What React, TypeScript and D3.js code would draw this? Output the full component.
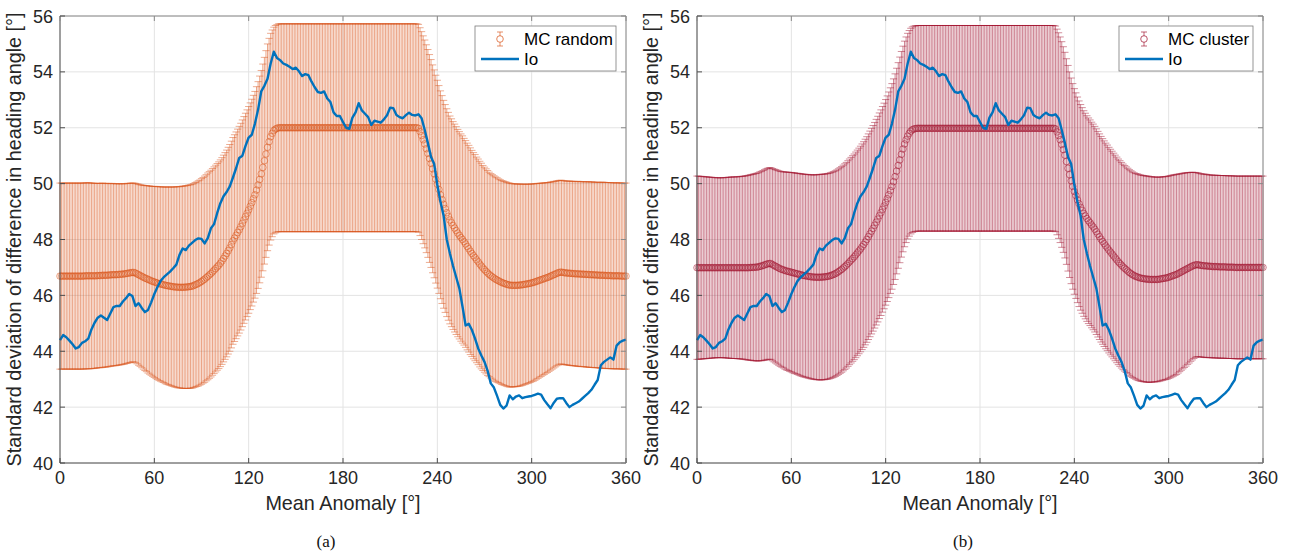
import React from 'react';
import * as d3 from 'd3';

// ---------- data ----------
const ANGLES: number[] = d3.range(0, 361, 1);    // error-bar positions, mean anomaly [deg]
const IO_ANGLES: number[] = d3.range(0, 361, 2); // Io samples [deg]
const X_TICKS = [0, 60, 120, 180, 240, 300, 360];
const Y_TICKS = [40, 42, 44, 46, 48, 50, 52, 54, 56];

// MC random: mean (deg) per 1 deg of mean anomaly
const MEAN_RANDOM = [
  46.69,46.69,46.69,46.69,46.69,46.69,46.69,46.69,46.69,46.69,
  46.69,46.69,46.69,46.69,46.69,46.69,46.70,46.70,46.70,46.70,
  46.70,46.70,46.70,46.70,46.71,46.71,46.71,46.72,46.72,46.72,
  46.72,46.73,46.73,46.74,46.74,46.74,46.74,46.75,46.75,46.76,
  46.76,46.77,46.78,46.79,46.80,46.81,46.82,46.82,46.80,46.77,
  46.74,46.71,46.68,46.65,46.62,46.60,46.57,46.55,46.52,46.50,
  46.48,46.46,46.44,46.42,46.41,46.39,46.38,46.36,46.35,46.34,
  46.33,46.32,46.31,46.30,46.30,46.29,46.29,46.29,46.29,46.29,
  46.30,46.30,46.31,46.32,46.33,46.35,46.38,46.40,46.43,46.46,
  46.50,46.54,46.58,46.63,46.68,46.73,46.78,46.84,46.90,46.96,
  47.02,47.08,47.15,47.23,47.32,47.41,47.50,47.60,47.70,47.82,
  47.95,48.05,48.15,48.25,48.35,48.46,48.58,48.70,48.82,48.94,
  49.06,49.19,49.32,49.46,49.60,49.77,49.95,50.15,50.35,50.58,
  50.82,51.06,51.30,51.50,51.68,51.80,51.90,51.95,51.98,52.00,
  52.00,52.00,52.00,52.00,52.00,52.00,52.00,52.00,52.00,52.00,
  52.00,52.00,52.00,52.00,52.00,52.00,52.00,52.00,52.00,52.00,
  52.00,52.00,52.00,52.00,52.00,52.00,52.00,52.00,52.00,52.00,
  52.00,52.00,52.00,52.00,52.00,52.00,52.00,52.00,52.00,52.00,
  52.00,52.00,52.00,52.00,52.00,52.00,52.00,52.00,52.00,52.00,
  52.00,52.00,52.00,52.00,52.00,52.00,52.00,52.00,52.00,52.00,
  52.00,52.00,52.00,52.00,52.00,52.00,52.00,52.00,52.00,52.00,
  52.00,52.00,52.00,52.00,52.00,52.00,52.00,52.00,52.00,52.00,
  52.00,52.00,52.00,52.00,52.00,52.00,52.00,52.00,51.98,51.86,
  51.72,51.57,51.42,51.25,51.08,50.90,50.72,50.53,50.35,50.16,
  49.98,49.79,49.60,49.43,49.26,49.11,48.96,48.83,48.70,48.60,
  48.50,48.41,48.32,48.23,48.15,48.07,48.00,47.92,47.84,47.75,
  47.67,47.58,47.50,47.42,47.35,47.27,47.20,47.12,47.05,46.98,
  46.92,46.86,46.80,46.75,46.70,46.66,46.62,46.58,46.55,46.52,
  46.49,46.46,46.44,46.42,46.40,46.38,46.37,46.36,46.36,46.36,
  46.36,46.36,46.37,46.37,46.38,46.39,46.40,46.41,46.42,46.43,
  46.45,46.46,46.48,46.50,46.52,46.54,46.56,46.58,46.60,46.62,
  46.64,46.66,46.69,46.71,46.74,46.76,46.79,46.81,46.83,46.83,
  46.82,46.81,46.80,46.80,46.79,46.79,46.78,46.78,46.77,46.77,
  46.77,46.76,46.76,46.76,46.75,46.75,46.75,46.74,46.74,46.74,
  46.73,46.73,46.73,46.72,46.72,46.72,46.72,46.71,46.71,46.71,
  46.71,46.70,46.70,46.70,46.70,46.70,46.70,46.69,46.69,46.69,
  46.69,
];
// MC random: error-bar half-width (deg)
const ERR_RANDOM = [
  3.33,3.33,3.33,3.33,3.33,3.33,3.33,3.33,3.33,3.33,
  3.33,3.33,3.33,3.33,3.33,3.33,3.33,3.33,3.33,3.33,
  3.32,3.32,3.31,3.31,3.30,3.30,3.30,3.30,3.29,3.29,
  3.28,3.28,3.27,3.27,3.26,3.26,3.25,3.25,3.24,3.24,
  3.23,3.23,3.22,3.22,3.21,3.21,3.20,3.20,3.21,3.22,
  3.24,3.25,3.27,3.29,3.31,3.33,3.35,3.37,3.38,3.40,
  3.42,3.44,3.45,3.47,3.48,3.49,3.50,3.52,3.53,3.54,
  3.55,3.56,3.57,3.58,3.59,3.60,3.60,3.61,3.62,3.62,
  3.63,3.63,3.64,3.64,3.65,3.65,3.66,3.66,3.67,3.67,
  3.68,3.68,3.69,3.69,3.70,3.70,3.70,3.70,3.70,3.70,
  3.70,3.70,3.70,3.70,3.70,3.70,3.70,3.70,3.70,3.70,
  3.70,3.70,3.70,3.70,3.70,3.70,3.70,3.70,3.70,3.70,
  3.70,3.70,3.70,3.70,3.70,3.70,3.70,3.70,3.70,3.70,
  3.70,3.70,3.70,3.70,3.70,3.70,3.70,3.71,3.71,3.72,
  3.72,3.72,3.72,3.72,3.72,3.72,3.72,3.72,3.72,3.72,
  3.72,3.72,3.72,3.72,3.72,3.72,3.72,3.72,3.72,3.72,
  3.72,3.72,3.72,3.72,3.72,3.72,3.72,3.72,3.72,3.72,
  3.72,3.72,3.72,3.72,3.72,3.72,3.72,3.72,3.72,3.72,
  3.72,3.72,3.72,3.72,3.72,3.72,3.72,3.72,3.72,3.72,
  3.72,3.72,3.72,3.72,3.72,3.72,3.72,3.72,3.72,3.72,
  3.72,3.72,3.72,3.72,3.72,3.72,3.72,3.72,3.72,3.72,
  3.72,3.72,3.72,3.72,3.72,3.72,3.72,3.72,3.72,3.72,
  3.72,3.72,3.72,3.72,3.72,3.72,3.72,3.72,3.72,3.72,
  3.72,3.72,3.72,3.72,3.72,3.72,3.72,3.72,3.72,3.72,
  3.72,3.72,3.72,3.72,3.72,3.72,3.72,3.72,3.72,3.72,
  3.72,3.72,3.72,3.71,3.71,3.71,3.71,3.70,3.70,3.70,
  3.70,3.70,3.69,3.69,3.69,3.68,3.68,3.68,3.68,3.67,
  3.67,3.67,3.67,3.66,3.66,3.66,3.66,3.66,3.66,3.65,
  3.65,3.65,3.65,3.65,3.65,3.65,3.65,3.64,3.64,3.63,
  3.63,3.62,3.62,3.61,3.60,3.59,3.58,3.57,3.56,3.55,
  3.54,3.53,3.52,3.50,3.49,3.47,3.46,3.44,3.43,3.41,
  3.40,3.38,3.37,3.35,3.34,3.32,3.31,3.30,3.29,3.29,
  3.29,3.29,3.29,3.29,3.30,3.30,3.30,3.30,3.30,3.31,
  3.31,3.31,3.31,3.31,3.31,3.32,3.32,3.32,3.32,3.32,
  3.32,3.32,3.32,3.32,3.33,3.33,3.33,3.33,3.33,3.33,
  3.33,3.33,3.33,3.33,3.33,3.33,3.33,3.33,3.33,3.33,
  3.33,
];

// MC cluster: mean (deg) per 1 deg of mean anomaly
const MEAN_CLUSTER = [
  46.99,46.99,46.99,46.99,46.99,46.99,46.99,46.99,46.99,46.99,
  46.99,46.99,46.99,46.99,46.99,46.99,46.99,46.99,46.99,46.99,
  46.99,46.99,46.99,46.99,46.99,46.99,46.99,46.99,46.99,46.99,
  46.99,46.99,46.99,46.99,47.00,47.00,47.00,47.01,47.01,47.02,
  47.04,47.05,47.07,47.09,47.11,47.13,47.14,47.14,47.10,47.07,
  47.04,47.01,46.98,46.95,46.93,46.91,46.89,46.87,46.86,46.84,
  46.83,46.81,46.80,46.78,46.77,46.75,46.74,46.72,46.71,46.70,
  46.69,46.68,46.67,46.66,46.66,46.65,46.65,46.65,46.65,46.65,
  46.66,46.66,46.67,46.68,46.69,46.71,46.73,46.75,46.78,46.81,
  46.85,46.89,46.93,46.98,47.03,47.08,47.14,47.20,47.26,47.32,
  47.38,47.45,47.52,47.59,47.66,47.74,47.82,47.91,48.00,48.10,
  48.20,48.30,48.40,48.51,48.62,48.73,48.85,48.96,49.08,49.20,
  49.33,49.46,49.60,49.75,49.90,50.07,50.25,50.45,50.65,50.85,
  51.05,51.24,51.42,51.57,51.70,51.80,51.88,51.93,51.96,51.97,
  51.98,51.98,51.98,51.98,51.98,51.98,51.98,51.98,51.98,51.98,
  51.98,51.98,51.98,51.98,51.98,51.98,51.98,51.98,51.98,51.98,
  51.98,51.98,51.98,51.98,51.98,51.98,51.98,51.98,51.98,51.98,
  51.98,51.98,51.98,51.98,51.98,51.98,51.98,51.98,51.98,51.98,
  51.98,51.98,51.98,51.98,51.98,51.98,51.98,51.98,51.98,51.98,
  51.98,51.98,51.98,51.98,51.98,51.98,51.98,51.98,51.98,51.98,
  51.98,51.98,51.98,51.98,51.98,51.98,51.98,51.98,51.98,51.98,
  51.98,51.98,51.98,51.98,51.98,51.98,51.98,51.98,51.98,51.98,
  51.98,51.98,51.98,51.98,51.98,51.98,51.98,51.98,51.96,51.85,
  51.72,51.57,51.40,51.22,51.02,50.79,50.55,50.32,50.10,49.90,
  49.72,49.57,49.42,49.28,49.15,49.04,48.93,48.84,48.75,48.67,
  48.60,48.52,48.45,48.37,48.28,48.19,48.10,48.01,47.93,47.85,
  47.77,47.70,47.62,47.55,47.48,47.41,47.34,47.27,47.20,47.14,
  47.08,47.02,46.97,46.92,46.87,46.82,46.78,46.74,46.71,46.68,
  46.66,46.64,46.62,46.61,46.60,46.59,46.58,46.58,46.57,46.57,
  46.57,46.57,46.57,46.57,46.58,46.59,46.60,46.61,46.62,46.63,
  46.65,46.67,46.69,46.71,46.73,46.75,46.78,46.81,46.84,46.87,
  46.90,46.93,46.96,46.99,47.02,47.05,47.07,47.09,47.10,47.09,
  47.08,47.07,47.06,47.06,47.05,47.05,47.04,47.04,47.03,47.03,
  47.03,47.03,47.02,47.02,47.02,47.02,47.02,47.01,47.01,47.01,
  47.01,47.01,47.00,47.00,47.00,47.00,47.00,47.00,47.00,47.00,
  47.00,47.00,47.00,47.00,47.00,47.00,47.00,47.00,47.00,47.00,
  47.00,
];
// MC cluster: error-bar half-width (deg)
const ERR_CLUSTER = [
  3.28,3.28,3.27,3.27,3.26,3.26,3.25,3.25,3.24,3.24,
  3.23,3.23,3.22,3.22,3.22,3.22,3.22,3.22,3.23,3.23,
  3.24,3.24,3.25,3.25,3.25,3.25,3.26,3.26,3.27,3.27,
  3.28,3.29,3.30,3.31,3.32,3.33,3.34,3.35,3.36,3.37,
  3.38,3.39,3.40,3.41,3.42,3.42,3.43,3.43,3.44,3.45,
  3.46,3.47,3.48,3.49,3.50,3.51,3.53,3.54,3.55,3.56,
  3.57,3.58,3.59,3.59,3.60,3.61,3.62,3.62,3.63,3.63,
  3.64,3.64,3.65,3.65,3.66,3.66,3.67,3.67,3.68,3.68,
  3.68,3.68,3.68,3.68,3.68,3.68,3.68,3.68,3.68,3.68,
  3.68,3.68,3.68,3.68,3.68,3.68,3.68,3.68,3.68,3.68,
  3.68,3.68,3.68,3.68,3.68,3.68,3.68,3.68,3.68,3.68,
  3.68,3.68,3.68,3.68,3.68,3.68,3.68,3.68,3.68,3.68,
  3.68,3.68,3.68,3.68,3.68,3.68,3.68,3.68,3.68,3.68,
  3.68,3.68,3.68,3.68,3.68,3.68,3.68,3.68,3.68,3.68,
  3.68,3.68,3.68,3.68,3.68,3.68,3.68,3.68,3.68,3.68,
  3.68,3.68,3.68,3.68,3.68,3.68,3.68,3.68,3.68,3.68,
  3.68,3.68,3.68,3.68,3.68,3.68,3.68,3.68,3.68,3.68,
  3.68,3.68,3.68,3.68,3.68,3.68,3.68,3.68,3.68,3.68,
  3.68,3.68,3.68,3.68,3.68,3.68,3.68,3.68,3.68,3.68,
  3.68,3.68,3.68,3.68,3.68,3.68,3.68,3.68,3.68,3.68,
  3.68,3.68,3.68,3.68,3.68,3.68,3.68,3.68,3.68,3.68,
  3.68,3.68,3.68,3.68,3.68,3.68,3.68,3.68,3.68,3.68,
  3.68,3.68,3.68,3.68,3.68,3.68,3.68,3.68,3.68,3.68,
  3.68,3.68,3.68,3.68,3.68,3.68,3.68,3.68,3.68,3.68,
  3.68,3.68,3.68,3.68,3.68,3.68,3.68,3.68,3.68,3.68,
  3.68,3.68,3.68,3.68,3.68,3.68,3.68,3.68,3.68,3.68,
  3.68,3.68,3.68,3.68,3.68,3.68,3.68,3.68,3.68,3.68,
  3.68,3.68,3.68,3.68,3.68,3.68,3.68,3.68,3.68,3.68,
  3.69,3.69,3.69,3.69,3.69,3.69,3.69,3.69,3.68,3.68,
  3.67,3.67,3.66,3.66,3.65,3.65,3.64,3.64,3.63,3.63,
  3.62,3.62,3.61,3.60,3.59,3.58,3.56,3.54,3.52,3.50,
  3.48,3.46,3.43,3.41,3.38,3.36,3.33,3.31,3.29,3.29,
  3.28,3.28,3.28,3.28,3.28,3.27,3.27,3.27,3.27,3.27,
  3.27,3.27,3.27,3.27,3.27,3.27,3.27,3.27,3.27,3.27,
  3.27,3.27,3.27,3.27,3.27,3.27,3.27,3.27,3.27,3.27,
  3.27,3.27,3.27,3.27,3.27,3.27,3.27,3.27,3.27,3.27,
  3.27,
];

// Io reference curve, one value per 2 deg
const IO = [
  44.40,44.58,44.50,44.38,44.25,44.10,44.15,44.30,44.36,44.45,
  44.78,45.02,45.20,45.28,45.20,45.12,45.35,45.58,45.62,45.62,
  45.78,45.90,46.05,45.98,45.62,45.72,45.55,45.40,45.48,45.75,
  46.05,46.30,46.52,46.65,46.75,46.85,46.97,47.10,47.45,47.68,
  47.62,47.78,47.88,47.98,48.04,48.02,47.86,48.05,48.40,48.55,
  48.95,49.30,49.55,49.70,49.90,50.22,50.55,50.92,51.00,51.35,
  51.65,51.75,52.15,52.65,53.30,53.50,53.75,54.30,54.72,54.50,
  54.42,54.30,54.25,54.18,54.10,54.15,54.02,53.85,53.92,53.88,
  53.65,53.45,53.28,53.25,53.30,53.05,52.92,52.55,52.42,52.42,
  52.20,52.00,51.96,52.36,52.55,52.88,52.62,52.50,52.38,52.10,
  52.25,52.22,52.18,52.30,52.45,52.72,52.70,52.46,52.38,52.34,
  52.45,52.54,52.46,52.44,52.48,52.34,51.92,51.45,50.95,50.70,
  49.95,49.35,48.85,48.00,47.50,47.05,46.65,46.25,45.60,44.92,
  44.98,44.76,44.45,44.10,43.85,43.62,43.30,42.85,42.70,42.40,
  42.08,41.95,42.05,42.42,42.28,42.38,42.42,42.32,42.36,42.38,
  42.40,42.44,42.48,42.45,42.25,42.10,41.96,42.15,42.30,42.32,
  42.32,42.15,42.00,42.08,42.14,42.20,42.30,42.40,42.50,42.62,
  42.80,42.97,43.50,43.62,43.70,43.78,43.70,44.20,44.32,44.38,
  44.42,
];

const SERIES_NAMES = ['MC random', 'MC cluster'];
const IO_NAME = 'Io';
const CAPTIONS = ['(a)', '(b)'];
const X_LABEL = 'Mean Anomaly [°]';
const Y_LABEL = 'Standard deviation of difference in heading angle [°]';

// ---------- style ----------
const SANS = "'Liberation Sans', Arial, Helvetica, sans-serif";
const SERIF = "'Liberation Serif', 'Times New Roman', serif";
const TEXT = '#262626';
const IO_COLOR = '#0072BD';
const COLORS = ['#D95319', '#A2142F'];
const TOP = 16;
const BOTTOM = 463;

type PanelProps = {
  x0: number; x1: number; mean: number[]; err: number[]; color: string;
  name: string; caption: string; legendX: number; legendW: number;
};

function Panel({ x0, x1, mean, err, color, name, caption, legendX, legendW }: PanelProps) {
  const x = d3.scaleLinear().domain([0, 360]).range([x0, x1]);
  const y = d3.scaleLinear().domain([40, 56]).range([BOTTOM, TOP]);
  const ioPath = d3.line<number>().x((_, i) => x(IO_ANGLES[i])).y((d) => y(d))(IO) || '';
  const cap = 3.6;
  const tick = 5;
  const cx = (x0 + x1) / 2;

  const barPath = ANGLES.map((a, i) => {
    const px = x(a);
    return `M${px},${y(mean[i] + err[i])}L${px},${y(mean[i] - err[i])}`;
  }).join('');
  const capPath = ANGLES.map((a, i) => {
    const px = x(a);
    const hi = y(mean[i] + err[i]);
    const lo = y(mean[i] - err[i]);
    return `M${px - cap},${hi}L${px + cap},${hi}M${px - cap},${lo}L${px + cap},${lo}`;
  }).join('');

  const ly = TOP + 10;
  const lh = 45;
  const iconX = legendX + 25;
  return (
    <g>
      {/* grid */}
      {X_TICKS.map((t) => (
        <line key={'gx' + t} x1={x(t)} x2={x(t)} y1={TOP} y2={BOTTOM} stroke="#e3e3e3" strokeWidth={1} />
      ))}
      {Y_TICKS.map((t) => (
        <line key={'gy' + t} x1={x0} x2={x1} y1={y(t)} y2={y(t)} stroke="#e3e3e3" strokeWidth={1} />
      ))}
      {/* error bars */}
      <path d={barPath} stroke={color} strokeOpacity={0.62} strokeWidth={0.85} fill="none" />
      <path d={capPath} stroke={color} strokeOpacity={0.6} strokeWidth={0.8} fill="none" />
      {ANGLES.map((a, i) => (
        <circle key={'m' + i} cx={x(a)} cy={y(mean[i])} r={3.3} fill="none" stroke={color} strokeOpacity={0.7} strokeWidth={0.75} />
      ))}
      {/* Io */}
      <path d={ioPath} fill="none" stroke={IO_COLOR} strokeWidth={2.4} strokeLinejoin="round" />
      {/* box */}
      <line x1={x0} x2={x1} y1={TOP} y2={TOP} stroke="#8a8a8a" strokeWidth={1} />
      <line x1={x1} x2={x1} y1={TOP} y2={BOTTOM} stroke="#8a8a8a" strokeWidth={1} />
      <line x1={x0} x2={x1} y1={BOTTOM} y2={BOTTOM} stroke="#4d4d4d" strokeWidth={1} />
      <line x1={x0} x2={x0} y1={TOP} y2={BOTTOM} stroke="#4d4d4d" strokeWidth={1} />
      {X_TICKS.map((t) => (
        <g key={'tx' + t}>
          <line x1={x(t)} x2={x(t)} y1={BOTTOM} y2={BOTTOM - tick} stroke="#4d4d4d" />
          <line x1={x(t)} x2={x(t)} y1={TOP} y2={TOP + tick} stroke="#8a8a8a" />
          <text x={x(t)} y={BOTTOM + 21} textAnchor="middle" fontFamily={SANS} fontSize={18} fill={TEXT}>{t}</text>
        </g>
      ))}
      {Y_TICKS.map((t) => (
        <g key={'ty' + t}>
          <line x1={x0} x2={x0 + tick} y1={y(t)} y2={y(t)} stroke="#4d4d4d" />
          <line x1={x1} x2={x1 - tick} y1={y(t)} y2={y(t)} stroke="#8a8a8a" />
          <text x={x0 - 7} y={y(t) + 6.5} textAnchor="end" fontFamily={SANS} fontSize={18} fill={TEXT}>{t}</text>
        </g>
      ))}
      {/* labels */}
      <text x={cx} y={BOTTOM + 47} textAnchor="middle" fontFamily={SANS} fontSize={19.8} fill={TEXT}>{X_LABEL}</text>
      <text transform={`translate(${x0 - 39},${(TOP + BOTTOM) / 2}) rotate(-90)`} textAnchor="middle" fontFamily={SANS} fontSize={19.8} fill={TEXT}>{Y_LABEL}</text>
      <text x={cx - 17} y={BOTTOM + 84} textAnchor="middle" fontFamily={SERIF} fontSize={17} fill="#111">{caption}</text>
      {/* legend */}
      <rect x={legendX} y={ly} width={legendW} height={lh} fill="#fff" stroke="#7a7a7a" strokeWidth={0.8} />
      <line x1={iconX} x2={iconX} y1={ly + 6} y2={ly + 20} stroke={color} strokeOpacity={0.65} />
      <line x1={iconX - 3} x2={iconX + 3} y1={ly + 6} y2={ly + 6} stroke={color} strokeOpacity={0.65} />
      <line x1={iconX - 3} x2={iconX + 3} y1={ly + 20} y2={ly + 20} stroke={color} strokeOpacity={0.65} />
      <circle cx={iconX} cy={ly + 13} r={3.3} fill="#fff" stroke={color} strokeOpacity={0.8} strokeWidth={0.9} />
      <text x={legendX + 49} y={ly + 19} fontFamily={SANS} fontSize={17} fill="#000">{name}</text>
      <line x1={legendX + 6} x2={legendX + 44} y1={ly + 33} y2={ly + 33} stroke={IO_COLOR} strokeWidth={2.5} />
      <text x={legendX + 49} y={ly + 39} fontFamily={SANS} fontSize={17} fill="#000">{IO_NAME}</text>
    </g>
  );
}

export default function App() {
  return (
    <svg width={1290} height={555} style={{ position: 'absolute', left: 0, top: 0, background: '#fff' }}>
      <rect x={0} y={0} width={1290} height={555} fill="#fff" />
      <Panel x0={60} x1={626} mean={MEAN_RANDOM} err={ERR_RANDOM} color={COLORS[0]} name={SERIES_NAMES[0]} caption={CAPTIONS[0]} legendX={475} legendW={141} />
      <Panel x0={697} x1={1263} mean={MEAN_CLUSTER} err={ERR_CLUSTER} color={COLORS[1]} name={SERIES_NAMES[1]} caption={CAPTIONS[1]} legendX={1119} legendW={134} />
    </svg>
  );
}
